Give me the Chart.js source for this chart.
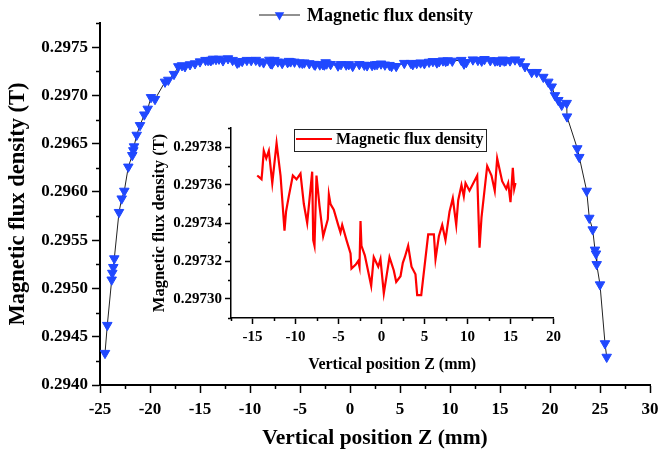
<!DOCTYPE html>
<html>
<head>
<meta charset="utf-8">
<script src="https://cdn.jsdelivr.net/npm/chart.js@4.4.0/dist/chart.umd.min.js"></script>
<style>
  html, body { margin: 0; padding: 0; background: #fff; }
  #wrap { position: relative; width: 659px; height: 451px; }
  #mainChart { position: absolute; left: 0; top: 0; }
  #insetChart { position: absolute; left: 140px; top: 112px; }
</style>
</head>
<body>
<div id="wrap">
  <canvas id="mainChart" width="659" height="451"></canvas>
  <canvas id="insetChart" width="425" height="268"></canvas>
</div>
<script>
// rising edge, Z (mm) and B (T)
const leftZ = [-24.5, -24.27, -23.83, -23.77, -23.67, -23.57, -23.1, -22.83, -22.57, -22.17,
  -21.77, -21.67, -21.6, -21.33, -21.0, -20.57, -20.23, -19.9, -19.5, -18.5,
  -18.17, -17.6, -17.17, -16.8, -16.5, -16.0, -15.5, -15.0];
const leftB = [0.29433, 0.29462, 0.29509, 0.29516, 0.29522, 0.29531, 0.29579, 0.29593, 0.29601, 0.29626,
  0.29638, 0.29643, 0.29647, 0.29659, 0.29669, 0.29680, 0.29686, 0.29698, 0.29696, 0.29714,
  0.29716, 0.29722, 0.29730, 0.29731, 0.29730, 0.29732, 0.29733, 0.29735];

// flat region (also shown enlarged in the inset)
const flatZ = [-14.45, -14.19, -13.95, -13.87, -13.69, -13.4, -13.1, -12.7, -12.2, -11.74,
  -11.28, -11.1, -10.78, -10.31, -9.88, -9.42, -9.03, -8.64, -8.06, -7.94,
  -7.79, -7.56, -7.21, -6.78, -6.24, -6.12, -5.93, -5.55, -5.04, -4.77,
  -4.57, -4.07, -3.6, -3.49, -3.02, -2.71, -2.56, -2.44, -2.33, -1.94,
  -1.2, -0.9, -0.38, -0.12, 0.27, 0.93, 1.43, 1.71, 2.21, 2.48,
  2.71, 3.1, 3.49, 3.95, 4.15, 4.62, 5.43, 6.09, 6.28, 6.67,
  7.06, 7.44, 7.91, 8.29, 8.69, 8.92, 9.3, 9.57, 9.77, 10.23,
  11.13, 11.4, 11.63, 12.29, 12.79, 13.17, 13.45, 14.03, 14.5, 14.73,
  15.0, 15.27, 15.43, 15.58];
const flatB = [0.297365, 0.297364, 0.297363, 0.297367, 0.297378, 0.297374, 0.297378, 0.297361, 0.297382, 0.297365,
  0.297336, 0.297346, 0.297354, 0.297365, 0.297363, 0.297366, 0.297350, 0.297340, 0.297367, 0.297331,
  0.297328, 0.297365, 0.297349, 0.297333, 0.297342, 0.297355, 0.297350, 0.297347, 0.297339, 0.297335,
  0.297339, 0.297331, 0.297324, 0.297316, 0.297318, 0.297320, 0.297317, 0.297341, 0.297328, 0.297323,
  0.297307, 0.297322, 0.297317, 0.297321, 0.297303, 0.297322, 0.297315, 0.297309, 0.297312, 0.297319,
  0.297322, 0.297328, 0.297317, 0.297313, 0.297302, 0.297302, 0.297334, 0.297334, 0.297321, 0.297333,
  0.297339, 0.297331, 0.297346, 0.297353, 0.297339, 0.297352, 0.297360, 0.297354, 0.297361, 0.297357,
  0.297365, 0.297327, 0.297343, 0.297370, 0.297365, 0.297357, 0.297374, 0.297362, 0.297358, 0.297361,
  0.297351, 0.297369, 0.297358, 0.297361];

// falling edge
const rightZ = [16.0, 16.5, 17.0, 17.5, 18.17, 18.67, 19.33, 19.83, 20.17, 20.5,
  20.83, 21.17, 21.67, 21.7, 22.73, 22.93, 23.67, 23.93, 24.27, 24.5,
  24.6, 24.67, 25.0, 25.5, 25.67];
const rightB = [0.29736, 0.29737, 0.29735, 0.29730, 0.29724, 0.29724, 0.29719, 0.29714, 0.29709, 0.29700,
  0.29695, 0.29690, 0.29692, 0.29678, 0.29645, 0.29636, 0.29601, 0.29573, 0.29561, 0.29540,
  0.29536, 0.29525, 0.29504, 0.29443, 0.29429];

const mainZTicks = [-25, -20, -15, -10, -5, 0, 5, 10, 15, 20, 25, 30];
const mainBTicks = [0.2940, 0.2945, 0.2950, 0.2955, 0.2960, 0.2965, 0.2970, 0.2975];
const insetZTicks = [-15, -10, -5, 0, 5, 10, 15, 20];
const insetBTicks = [0.29730, 0.29732, 0.29734, 0.29736, 0.29738];

const seriesLabel = 'Magnetic flux density';
const blue = 'rgb(32, 72, 255)';

const toPoints = (zs, bs) => zs.map((z, i) => ({ x: z, y: bs[i] }));
const mainPoints = toPoints(leftZ, leftB).concat(toPoints(flatZ, flatB), toPoints(rightZ, rightB));
const insetPoints = toPoints(flatZ, flatB);

Chart.defaults.font.family = '"Liberation Serif", "Times New Roman", serif';
Chart.defaults.font.weight = 'bold';
Chart.defaults.color = '#000';

// short ticks halfway between the labelled ones
const minorTicks = {
  id: 'minorTicks',
  afterDraw(chart, args, opts) {
    const ctx = chart.ctx;
    ctx.save();
    ctx.strokeStyle = '#000';
    ctx.lineWidth = 1.5;
    ['x', 'y'].forEach(id => {
      const s = chart.scales[id];
      const t = s.ticks.map(k => k.value);
      const half = (t[1] - t[0]) / 2;
      const eps = half * 1e-3;
      const vals = [];
      for (let v = t[0] - half; v >= s.min - eps; v -= 2 * half) vals.push(v);
      for (let i = 0; i < t.length - 1; i++) vals.push((t[i] + t[i + 1]) / 2);
      for (let v = t[t.length - 1] + half; v <= s.max + eps; v += 2 * half) vals.push(v);
      ctx.beginPath();
      vals.forEach(v => {
        const p = Math.round(s.getPixelForValue(v)) + 0.5;
        if (id === 'x') { ctx.moveTo(p, s.top); ctx.lineTo(p, s.top + opts.length); }
        else { ctx.moveTo(s.right, p); ctx.lineTo(s.right - opts.length, p); }
      });
      ctx.stroke();
    });
    ctx.restore();
  }
};

// Origin-style legend: sample line (+ marker) and label, optional frame
const lineLegend = {
  id: 'lineLegend',
  afterDraw(chart, args, o) {
    const ds = chart.data.datasets[0];
    const ctx = chart.ctx;
    ctx.save();
    if (o.frame) {
      ctx.strokeStyle = '#222';
      ctx.lineWidth = 1;
      ctx.strokeRect(o.frame[0] + 0.5, o.frame[1] + 0.5, o.frame[2], o.frame[3]);
    }
    ctx.strokeStyle = ds.borderColor;
    ctx.lineWidth = ds.borderWidth;
    ctx.beginPath();
    ctx.moveTo(o.x, o.y);
    ctx.lineTo(o.x + o.len, o.y);
    ctx.stroke();
    if (o.marker) {
      const cx = o.x + o.len / 2, r = ds.pointRadius;
      ctx.fillStyle = ds.pointBackgroundColor;
      ctx.beginPath();
      ctx.moveTo(cx - r * 0.866, o.y - r / 2);
      ctx.lineTo(cx + r * 0.866, o.y - r / 2);
      ctx.lineTo(cx, o.y + r);
      ctx.closePath();
      ctx.fill();
    }
    ctx.fillStyle = '#000';
    ctx.font = 'bold ' + o.size + 'px "Liberation Serif"';
    ctx.textBaseline = 'middle';
    ctx.fillText(ds.label, o.x + o.len + o.gap, o.y + 1);
    ctx.restore();
  }
};

function axisTicks(values) {
  return s => { s.ticks = values.map(v => ({ value: v })); };
}

new Chart(document.getElementById('mainChart'), {
  type: 'scatter',
  data: {
    datasets: [{
      label: seriesLabel,
      data: mainPoints,
      showLine: true,
      borderColor: '#222',
      borderWidth: 1,
      pointStyle: 'triangle',
      rotation: 180,
      pointRadius: 5.5,
      pointBackgroundColor: blue,
      pointBorderColor: blue,
      pointBorderWidth: 1
    }]
  },
  options: {
    responsive: false,
    animation: false,
    layout: { padding: { left: 0, top: 23, right: 9, bottom: 0 } },
    plugins: {
      legend: { display: false },
      tooltip: { enabled: false },
      minorTicks: { length: 4 },
      lineLegend: { x: 259, y: 15, len: 41, gap: 7, size: 18, marker: true }
    },
    scales: {
      x: {
        type: 'linear', min: -25, max: 30, bounds: 'data',
        afterBuildTicks: axisTicks(mainZTicks),
        afterFit: s => { s.height = 66; s.paddingRight = 0; },
        ticks: { autoSkip: false, maxRotation: 0, padding: 6, font: { size: 17 }, callback: v => String(v) },
        grid: { drawOnChartArea: false, tickLength: 8, tickColor: '#000', tickWidth: 1.5 },
        border: { color: '#000', width: 2 },
        title: { display: true, text: 'Vertical position Z (mm)', font: { size: 21.5 }, padding: { top: 0, bottom: 0 } }
      },
      y: {
        type: 'linear', min: 0.2940, max: 0.29775, bounds: 'data',
        afterBuildTicks: axisTicks(mainBTicks),
        afterFit: s => { s.width = 100; },
        ticks: { autoSkip: false, padding: 4, font: { size: 17 }, callback: v => v.toFixed(4) },
        grid: { drawOnChartArea: false, tickLength: 8, tickColor: '#000', tickWidth: 1.5 },
        border: { color: '#000', width: 2 },
        title: { display: true, text: 'Magnetic flux density (T)', font: { size: 22.5 }, padding: { top: 5, bottom: 0 } }
      }
    }
  },
  plugins: [minorTicks, lineLegend]
});

new Chart(document.getElementById('insetChart'), {
  type: 'scatter',
  data: {
    datasets: [{
      label: seriesLabel,
      data: insetPoints,
      showLine: true,
      borderColor: '#ff0000',
      borderWidth: 2.2,
      pointRadius: 0
    }]
  },
  options: {
    responsive: false,
    animation: false,
    layout: { padding: { left: 0, top: 16, right: 11, bottom: 0 } },
    plugins: {
      legend: { display: false },
      tooltip: { enabled: false },
      minorTicks: { length: 3 },
      lineLegend: { frame: [154, 17, 192, 22], x: 156, y: 27, len: 36, gap: 4, size: 16 }
    },
    scales: {
      x: {
        type: 'linear', min: -17.5, max: 20, bounds: 'data',
        afterBuildTicks: axisTicks(insetZTicks),
        afterFit: s => { s.height = 62; },
        ticks: { autoSkip: false, maxRotation: 0, padding: 4, font: { size: 15 }, callback: v => String(v) },
        grid: { drawOnChartArea: false, tickLength: 6, tickColor: '#000', tickWidth: 1.5 },
        border: { color: '#000', width: 1.5 },
        title: { display: true, text: 'Vertical position Z (mm)', font: { size: 16 }, padding: { top: 0, bottom: 6 } }
      },
      y: {
        type: 'linear', min: 0.29729, max: 0.29739, bounds: 'data',
        afterBuildTicks: axisTicks(insetBTicks),
        afterFit: s => { s.width = 91; },
        ticks: { autoSkip: false, padding: 3, font: { size: 15 }, callback: v => v.toFixed(5) },
        grid: { drawOnChartArea: false, tickLength: 6, tickColor: '#000', tickWidth: 1.5 },
        border: { color: '#000', width: 1.5 },
        title: { display: true, text: 'Magnetic flux density (T)', font: { size: 16.5 }, padding: { top: 10, bottom: 0 } }
      }
    }
  },
  plugins: [minorTicks, lineLegend]
});
</script>
</body>
</html>
